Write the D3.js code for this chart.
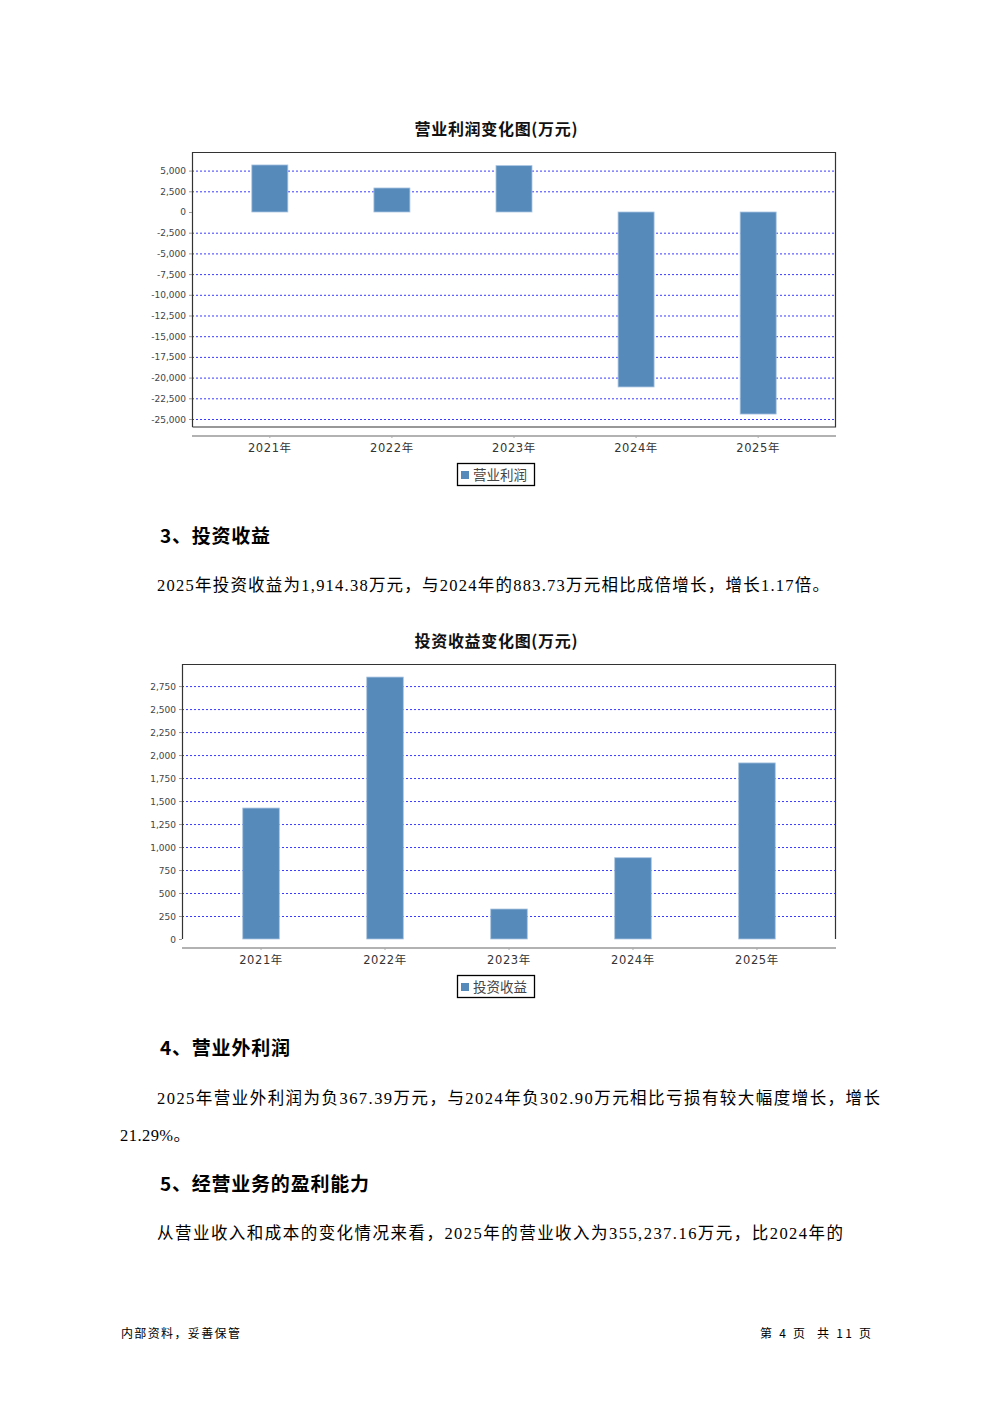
<!DOCTYPE html>
<html><head><meta charset="utf-8">
<script src="https://cdn.jsdelivr.net/npm/d3@7/dist/d3.min.js"></script>
<style>
html,body{margin:0;padding:0;background:#fff;}
svg{display:block;}
</style></head>
<body>
<script>
// ---- data ----
const categories = ["2021年","2022年","2023年","2024年","2025年"];
const profitValues = [5680, 2900, 5600, -21130, -24400];      // 营业利润
const investValues = [1424, 2848, 326, 883.73, 1914.38];       // 投资收益
const profitTicks = [5000,2500,0,-2500,-5000,-7500,-10000,-12500,-15000,-17500,-20000,-22500,-25000];
const investTicks = [0,250,500,750,1000,1250,1500,1750,2000,2250,2500,2750];
const profitDomain = [-25966, 7246];
const investDomain = [0, 2990];

const W = 992, H = 1403;
const svg = d3.select("body").append("svg").attr("width", W).attr("height", H);
const CJK = "'Noto Sans CJK SC','Noto Sans',sans-serif";
const BODY = "'Liberation Serif','Noto Sans CJK SC',serif";
const BAR = "#568abb";
const fmt = d3.formatLocale({decimal:".", thousands:",", grouping:[3], currency:["",""], minus:"-"}).format(",");

function chart(o){
  const g = svg.append("g");
  const x = d3.scaleBand().domain(o.cats).range([o.left, o.right]).paddingInner(0.705).paddingOuter(0.49);
  const y = d3.scaleLinear().domain(o.domain).range([o.bottom, o.top]);
  // title
  g.append("text").attr("x", 496).attr("y", o.top - 17).attr("text-anchor","middle")
    .attr("font-family", CJK).attr("font-weight","bold").attr("font-size",16)
    .attr("textLength",163).attr("lengthAdjust","spacing").attr("fill","#111").text(o.title);
  // gridlines
  g.selectAll(".grid").data(o.ticks.filter(t => t !== 0)).enter().append("line")
    .attr("x1", o.left).attr("x2", o.right).attr("y1", d => y(d)+0.5).attr("y2", d => y(d)+0.5)
    .attr("stroke","#3a3aff").attr("stroke-width",1).attr("stroke-dasharray","2,2");
  // bars
  g.selectAll(".bar").data(o.values).enter().append("rect")
    .attr("x", (d,i) => x(o.cats[i]))
    .attr("width", x.bandwidth())
    .attr("y", d => Math.min(y(d), y(0)))
    .attr("height", d => Math.abs(y(d) - y(0)))
    .attr("fill", BAR).attr("stroke","#a9c4e0").attr("stroke-width",0.8);
  // plot border
  const bp = d3.path();
  bp.moveTo(o.left+0.5, o.bottom); bp.lineTo(o.left+0.5, o.top+0.5); bp.lineTo(o.right-0.5, o.top+0.5); bp.lineTo(o.right-0.5, o.bottom);
  if (o.closeBottom) bp.lineTo(o.left+0.5, o.bottom);
  g.append("path").attr("d", bp.toString()).attr("fill","none").attr("stroke","#333").attr("stroke-width",1.2);
  // y axis ticks and labels
  const ya = g.selectAll(".yt").data(o.ticks).enter().append("g");
  ya.append("line").attr("x1", o.left-3).attr("x2", o.left).attr("y1", d=>y(d)+0.5).attr("y2", d=>y(d)+0.5).attr("stroke","#999");
  ya.append("text").attr("x", o.left-6).attr("y", d=>y(d)+3.5).attr("text-anchor","end")
    .attr("font-family","'DejaVu Sans',sans-serif").attr("font-size",9).attr("fill","#444")
    .text(d => fmt(d));
  // x axis
  g.append("line").attr("x1", o.left).attr("x2", o.right).attr("y1", o.xAxisY).attr("y2", o.xAxisY)
    .attr("stroke","#999").attr("stroke-width",1.3);
  g.selectAll(".xt").data(o.cats).enter().append("line")
    .attr("x1", d => x(d)+x.bandwidth()/2).attr("x2", d => x(d)+x.bandwidth()/2)
    .attr("y1", o.xAxisY).attr("y2", o.xAxisY+2).attr("stroke","#aaa");
  g.selectAll(".xl").data(o.cats).enter().append("text")
    .attr("x", d => x(d)+x.bandwidth()/2).attr("y", o.xAxisY+16).attr("text-anchor","middle")
    .attr("font-family", "'DejaVu Sans','Noto Sans CJK SC',sans-serif").attr("font-size",11.5)
    .attr("letter-spacing",0.6).attr("fill","#333").text(d => d);
  // legend
  const ly = o.xAxisY + 27;
  g.append("rect").attr("x",457.5).attr("y",ly+0.5).attr("width",77).attr("height",22)
    .attr("fill","#fff").attr("stroke","#000").attr("stroke-width",1.3);
  g.append("rect").attr("x",461).attr("y",ly+8).attr("width",8).attr("height",8).attr("fill",BAR);
  g.append("text").attr("x",473).attr("y",ly+16.5).attr("font-family",CJK).attr("font-size",13.5)
    .attr("fill","#444").text(o.legend);
}

chart({title:"营业利润变化图(万元)", cats:categories, values:profitValues, ticks:profitTicks, domain:profitDomain,
  left:192, right:836, top:152, bottom:427, xAxisY:436, legend:"营业利润", closeBottom:true});
chart({title:"投资收益变化图(万元)", cats:categories, values:investValues, ticks:investTicks, domain:investDomain,
  left:182, right:836, top:664, bottom:939, xAxisY:948, legend:"投资收益", closeBottom:false});

// ---- text body ----
function heading(t, yy, x1){
  svg.append("text").attr("x",160).attr("y",yy).attr("font-family",CJK).attr("font-weight","bold")
    .attr("font-size",19).attr("textLength",x1-160).attr("lengthAdjust","spacing").attr("fill","#000").text(t);
}
function para(t, x0, yy, x1){
  const tx = svg.append("text").attr("x",x0).attr("y",yy).attr("font-family",BODY)
    .attr("font-size",16.5).attr("fill","#000").text(t);
  if (x1) tx.attr("textLength", x1-x0).attr("lengthAdjust","spacing");
}
heading("3、投资收益", 543, 270);
para("2025年投资收益为1,914.38万元，与2024年的883.73万元相比成倍增长，增长1.17倍。", 157, 591, 829);
heading("4、营业外利润", 1055, 290);
para("2025年营业外利润为负367.39万元，与2024年负302.90万元相比亏损有较大幅度增长，增长", 157, 1104, 880);
para("21.29%。", 120, 1141, 190);
heading("5、经营业务的盈利能力", 1191, 369);
para("从营业收入和成本的变化情况来看，2025年的营业收入为355,237.16万元，比2024年的", 157, 1239, 843);

// footer
svg.append("text").attr("x",121).attr("y",1338).attr("font-family",CJK).attr("font-size",12)
  .attr("fill","#000").attr("textLength",119).attr("lengthAdjust","spacing").text("内部资料，妥善保管");
svg.append("text").attr("x",760).attr("y",1338).attr("font-family",CJK).attr("font-size",12)
  .attr("fill","#000").attr("xml:space","preserve").attr("textLength",111).attr("lengthAdjust","spacing")
  .text("第 4 页  共 11 页");
</script>
</body></html>
